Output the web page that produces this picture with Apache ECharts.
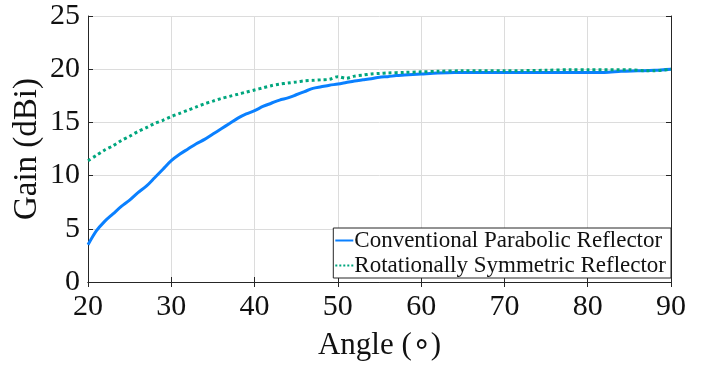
<!DOCTYPE html>
<html>
<head>
<meta charset="utf-8">
<script src="https://cdn.jsdelivr.net/npm/echarts@6/dist/echarts.min.js"></script>
<style>
  html, body { margin: 0; padding: 0; background: #fff; }
  #chart { width: 723px; height: 367px; }
</style>
</head>
<body>
<div id="chart"></div>
<script>
// Gain vs angle
const parabolicAngles = [20, 21, 22, 23, 24, 25, 26, 27, 28, 29, 30, 31, 32, 33, 34, 35, 36, 37, 38, 39, 40,
    41, 42, 43, 44, 45, 46, 47, 48, 49, 50, 51, 52, 53, 54, 55, 56, 57, 58, 59, 60, 62, 64, 66, 70, 75, 80, 82, 84, 86, 88, 90]
const parabolicGain = [3.5, 4.8, 5.7, 6.4, 7.1, 7.7, 8.4, 9.0, 9.8, 10.6, 11.4, 12.0, 12.5, 13.0, 13.4, 13.9, 14.4, 14.9, 15.4, 15.8, 16.1,
    16.5, 16.8, 17.1, 17.3, 17.6, 17.9, 18.2, 18.35, 18.5, 18.6, 18.75, 18.9, 19.0, 19.1, 19.25, 19.3, 19.4, 19.45, 19.5, 19.55, 19.65, 19.7, 19.7, 19.7, 19.7, 19.7, 19.7, 19.8, 19.85, 19.9, 20.0]

const symmetricAngles = [20, 21, 22, 23, 24, 25, 26, 27, 28, 29, 30, 31, 32, 33, 34, 35, 36, 37, 38, 39, 40,
    41, 42, 43, 44, 45, 46, 47, 48, 49, 50, 51, 52, 53, 54, 55, 56, 58, 60, 62, 65, 70, 75, 78, 80, 85, 87, 88, 90]
const symmetricGain = [11.4, 11.9, 12.4, 12.8, 13.3, 13.7, 14.15, 14.5, 14.9, 15.2, 15.55, 15.85, 16.15, 16.45, 16.75, 17.0, 17.25, 17.45, 17.65, 17.85, 18.05,
    18.25, 18.45, 18.6, 18.7, 18.8, 18.9, 18.95, 19.0, 19.05, 19.3, 19.15, 19.35, 19.45, 19.55, 19.6, 19.65, 19.7, 19.75, 19.8, 19.85, 19.85, 19.9, 19.95, 19.95, 19.95, 19.85, 19.85, 20.0]

const seriesNames = ['Conventional Parabolic Reflector', 'Rotationally Symmetric Reflector']

function pairs(xs, ys) {
    return xs.map((x, i) => [x, ys[i]])
}

const font = 'Liberation Serif'
const axisColor = '#262626'
const gridColor = '#dcdcdc'

let myChart = echarts.init(document.getElementById('chart'))

let option = {
    animation: false,
    grid: {
        left: 88,
        right: 52,
        top: 16,
        bottom: 85,
        outerBoundsMode: 'none',
        containLabel: false
    },
    legend: {
        orient: 'vertical',
        right: 52,
        bottom: 89,
        padding: [1, 5, 1, 1],
        itemGap: 2,
        itemWidth: 18,
        itemHeight: 10,
        borderColor: axisColor,
        borderWidth: 1,
        backgroundColor: '#fff',
        itemStyle: { opacity: 0 },
        textStyle: {
            fontFamily: font,
            fontSize: 23,
            color: '#111',
            padding: [0, 0, 0, -4]
        },
        data: seriesNames
    },
    xAxis: [{
        type: 'value',
        min: 20,
        max: 90,
        interval: 10,
        name: 'Angle (∘)',
        nameLocation: 'middle',
        nameGap: 48,
        nameTextStyle: { fontFamily: font, fontSize: 31, color: '#111' },
        axisLine: { lineStyle: { color: axisColor, width: 1 } },
        axisTick: { inside: true, length: 5, lineStyle: { color: axisColor } },
        axisLabel: { fontFamily: font, fontSize: 30, color: '#111', margin: 10 },
        splitLine: { show: true, lineStyle: { color: gridColor, width: 1 } }
    }, {
        type: 'value',
        position: 'top',
        min: 20,
        max: 90,
        interval: 10,
        axisLine: { show: true, lineStyle: { color: axisColor, width: 1 } },
        axisTick: { show: true, inside: true, length: 5, lineStyle: { color: axisColor } },
        axisLabel: { show: false },
        splitLine: { show: false }
    }],
    yAxis: [{
        type: 'value',
        min: 0,
        max: 25,
        interval: 5,
        name: 'Gain (dBi)',
        nameLocation: 'middle',
        nameGap: 44,
        nameMoveOverlap: false,
        nameRotate: 90,
        nameTextStyle: { fontFamily: font, fontSize: 33, color: '#111' },
        axisLine: { show: true, lineStyle: { color: axisColor, width: 1 } },
        axisTick: { show: true, inside: true, length: 5, lineStyle: { color: axisColor } },
        axisLabel: { fontFamily: font, fontSize: 30, color: '#111', margin: 8 },
        splitLine: { show: true, lineStyle: { color: gridColor, width: 1 } }
    }, {
        type: 'value',
        position: 'right',
        min: 0,
        max: 25,
        interval: 5,
        axisLine: { show: true, lineStyle: { color: axisColor, width: 1 } },
        axisTick: { show: true, inside: true, length: 5, lineStyle: { color: axisColor } },
        axisLabel: { show: false },
        splitLine: { show: false }
    }],
    series: [{
        name: seriesNames[0],
        type: 'line',
        showSymbol: false,
        symbol: 'none',
        smooth: 0.3,
        data: pairs(parabolicAngles, parabolicGain),
        itemStyle: { color: '#0a80ff' },
        lineStyle: { color: '#0a80ff', width: 3 }
    }, {
        name: seriesNames[1],
        type: 'line',
        showSymbol: false,
        symbol: 'none',
        smooth: 0.3,
        data: pairs(symmetricAngles, symmetricGain),
        itemStyle: { color: '#00a67e' },
        lineStyle: { color: '#00a67e', width: 3, type: 'dotted' }
    }]
};
myChart.setOption(option);
</script>
</body>
</html>
